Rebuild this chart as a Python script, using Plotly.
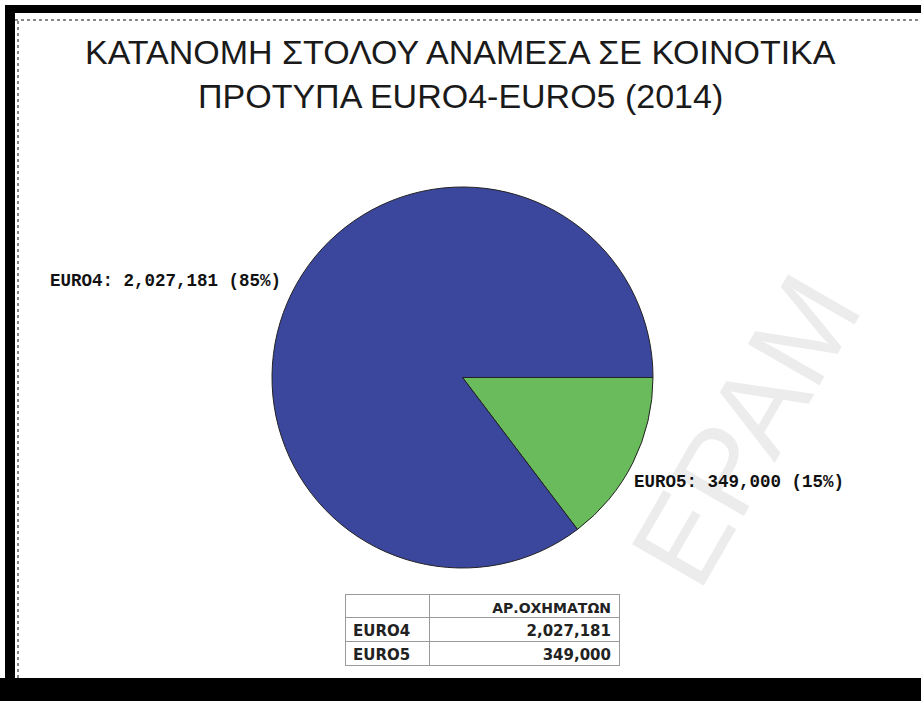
import plotly.graph_objects as go

categories = ["EURO4", "EURO5"]
vehicles = [2027181, 349000]
colors = ["#3b479d", "#69bb5b"]
title_lines = ["ΚΑΤΑΝΟΜΗ ΣΤΟΛΟΥ ΑΝΑΜΕΣΑ ΣΕ ΚΟΙΝΟΤΙΚΑ", "ΠΡΟΤΥΠΑ EURO4-EURO5 (2014)"]
table_header = ["", "ΑΡ.ΟΧΗΜΑΤΩΝ"]
watermark = "ΕΡΑΜ"

W, H = 921, 701
total = sum(vehicles)
pcts = [round(v / total * 100) for v in vehicles]

fig = go.Figure()

# pie drawn clockwise from 3 o'clock: EURO5 first (below the east radius), then EURO4
fig.add_trace(go.Pie(
    labels=categories[::-1],
    values=vehicles[::-1],
    sort=False,
    direction="clockwise",
    rotation=90,
    marker=dict(colors=colors[::-1], line=dict(color="#222222", width=1)),
    textinfo="none",
    hoverinfo="label+value+percent",
    showlegend=False,
    domain=dict(x=[272 / W, 653 / W], y=[1 - 568 / H, 1 - 187 / H]),
))

fig.add_trace(go.Table(
    columnwidth=[85, 190],
    header=dict(values=table_header,
                align=["left", "right"],
                fill_color="white",
                line_color="#9a9a9a",
                height=23,
                font=dict(family="DejaVu Sans", size=14, color="#222222", weight="bold")),
    cells=dict(values=[categories, [f"{v:,}" for v in vehicles]],
               align=["left", "right"],
               fill_color="white",
               line_color="#9a9a9a",
               height=24,
               font=dict(family="DejaVu Sans", size=15, color="#222222", weight="bold")),
    domain=dict(x=[345 / W, 620 / W], y=[1 - 680 / H, 1 - 594 / H]),
))

annotations = [
    dict(text=watermark, x=745 / W, y=1 - 430 / H, xref="paper", yref="paper",
         xanchor="center", yanchor="middle",
         showarrow=False, textangle=-60,
         font=dict(family="Liberation Sans", size=120, color="#ececec")),
    dict(text=title_lines[0], x=0.5, y=1 - 52 / H, xref="paper", yref="paper",
         yanchor="middle", showarrow=False,
         font=dict(family="Liberation Sans", size=34, color="#1a1a1a")),
    dict(text=title_lines[1], x=0.5, y=1 - 96 / H, xref="paper", yref="paper",
         yanchor="middle", showarrow=False,
         font=dict(family="Liberation Sans", size=34, color="#1a1a1a")),
    dict(text=f"{categories[0]}: {vehicles[0]:,} ({pcts[0]}%)", x=48 / W, y=1 - 281 / H,
         xref="paper", yref="paper", xanchor="left", yanchor="middle", showarrow=False,
         font=dict(family="Liberation Mono", size=17.5, color="#111111", weight="bold")),
    dict(text=f"{categories[1]}: {vehicles[1]:,} ({pcts[1]}%)", x=632 / W, y=1 - 482 / H,
         xref="paper", yref="paper", xanchor="left", yanchor="middle", showarrow=False,
         font=dict(family="Liberation Mono", size=17.5, color="#111111", weight="bold")),
]

shapes = [
    # thick black frame (top, left, bottom)
    dict(type="rect", xref="paper", yref="paper", x0=5 / W, x1=1, y0=1 - 13 / H, y1=1 - 5 / H,
         fillcolor="black", line_width=0),
    dict(type="rect", xref="paper", yref="paper", x0=5 / W, x1=15 / W, y0=0, y1=1 - 5 / H,
         fillcolor="black", line_width=0),
    dict(type="rect", xref="paper", yref="paper", x0=0, x1=1, y0=0, y1=1 - 678 / H,
         fillcolor="black", line_width=0),
    # dotted inner edges
    dict(type="line", xref="paper", yref="paper", x0=15 / W, x1=1, y0=1 - 20 / H, y1=1 - 20 / H,
         line=dict(color="#888888", width=2, dash="dot")),
    dict(type="line", xref="paper", yref="paper", x0=18 / W, x1=18 / W, y0=1 - 678 / H, y1=1 - 20 / H,
         line=dict(color="#888888", width=2, dash="dot")),
]

fig.update_layout(
    width=W, height=H,
    margin=dict(l=0, r=0, t=0, b=0),
    paper_bgcolor="white",
    plot_bgcolor="white",
    annotations=annotations,
    shapes=shapes,
)

fig.write_html("out.html",
               config={"displayModeBar": False},
               post_script="document.body.style.margin='0';document.body.style.overflow='hidden';")
